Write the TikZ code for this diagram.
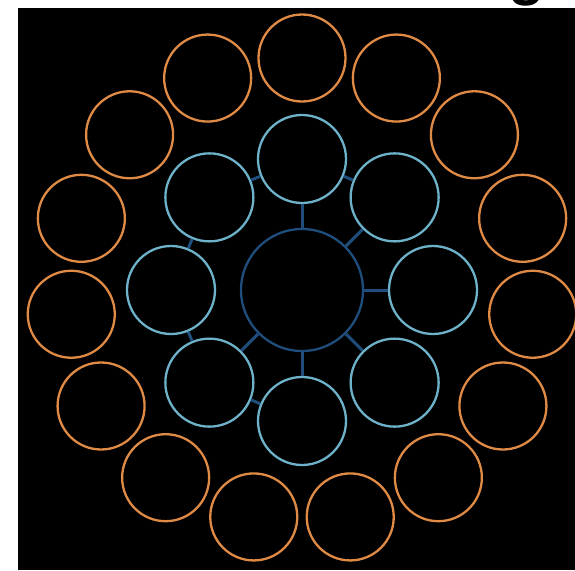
\documentclass[tikz,border=0pt]{standalone}
\usepackage{fontspec}
\setmainfont{Liberation Sans}
\definecolor{orangeC}{HTML}{DF8A45}
\definecolor{lightB}{HTML}{6DB2C8}
\definecolor{darkB}{HTML}{1F4E7C}
\begin{document}
\begin{tikzpicture}[x=1pt,y=-1pt,
  hub/.style={circle,draw=darkB,line width=2.3pt,minimum size=122pt,inner sep=0pt},
  innerc/.style={circle,draw=lightB,line width=2.3pt,minimum size=88pt,inner sep=0pt},
  outerc/.style={circle,draw=orangeC,line width=2.3pt,minimum size=87pt,inner sep=0pt},
  link/.style={draw=darkB,line width=3pt}]
\useasboundingbox (0,0) rectangle (575,570);
\node[font=\bfseries\fontsize{60}{60}\selectfont,anchor=base] (title) at (527,-6) {g};
\fill[black] (18,8) rectangle (575,570);
\node[hub] (c) at (302,290) {};
\foreach \i in {0,...,7}{
  \pgfmathsetmacro{\a}{90-45*\i}
  \node[innerc] (i\i) at ({302+131*cos(\a)},{290-131*sin(\a)}) {};
}
\foreach \i in {0,...,14}{
  \pgfmathsetmacro{\a}{90+24*\i}
  \node[outerc] (o\i) at ({302+232*cos(\a)},{290-232*sin(\a)}) {};
}
\foreach \i in {0,...,5}{ \draw[link] (c) -- (i\i); }
\draw[link] (i7) -- (i0);
\draw[link] (i0) -- (i1);
\draw[link] (i7) -- (i6);
\draw[link] (i6) -- (i5);
\draw[link] (i5) -- (i4);
\end{tikzpicture}
\end{document}
